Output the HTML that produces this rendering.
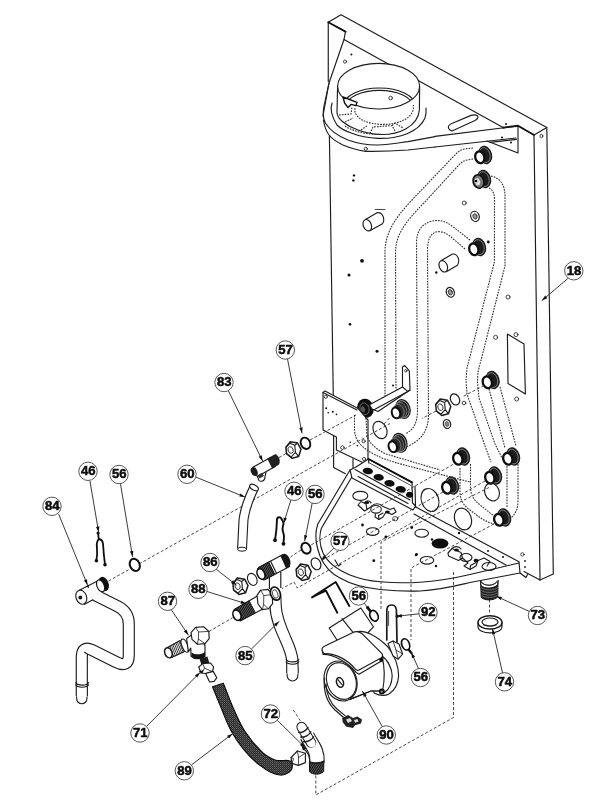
<!DOCTYPE html>
<html><head><meta charset="utf-8"><title>Parts diagram</title>
<style>
html,body{margin:0;padding:0;background:#fff;}
body{width:600px;height:800px;overflow:hidden;font-family:"Liberation Sans",sans-serif;}
svg{display:block}
svg *{vector-effect:non-scaling-stroke}
.l{fill:none;stroke:#1c1c1c;stroke-width:1.15;stroke-linecap:round;stroke-linejoin:round}
.t{fill:none;stroke:#1c1c1c;stroke-width:0.8;stroke-linecap:round;stroke-linejoin:round}
.b{fill:none;stroke:#111;stroke-width:1.9;stroke-linecap:round;stroke-linejoin:round}
.w{fill:#fff;stroke:#1c1c1c;stroke-width:1.15;stroke-linejoin:round}
.k{fill:#111;stroke:none}
.d{fill:none;stroke:#303030;stroke-width:1.1;stroke-dasharray:1.7 1.1}
.dd{fill:none;stroke:#353535;stroke-width:0.9;stroke-dasharray:3 2}
.lab circle{fill:#fff;stroke:#444;stroke-width:0.9}
.lab text{font-family:"Liberation Sans",sans-serif;font-weight:bold;font-size:13px;text-anchor:middle;fill:#0a0a0a;stroke:#0a0a0a;stroke-width:0.5}
.lab path.l{stroke:#303030;stroke-width:0.95}
</style></head>
<body>
<svg width="600" height="800" viewBox="0 0 600 800">
<rect width="600" height="800" fill="#fff"/>
<defs><filter id="soft" x="0" y="0" width="600" height="800" filterUnits="userSpaceOnUse"><feGaussianBlur stdDeviation="0.35"/></filter></defs>
<g filter="url(#soft)">
<!--PANEL-->
<g id="panel">
<path class="l" d="M328.25 81.5 L328.25 22.25 L341 14.75 L546.8 127.5 L553.3 574 L540 580"/>
<path class="b" d="M328.25 22.25 L345.5 31.7"/>
<path class="l" d="M345.5 31.7 L344 39.5 L504 128"/>
<path class="b" d="M503 127.6 L518 125.8 L534 135"/>
<path class="l" d="M534 135 L546.8 127.5 M534 135 L540 580"/>
<path class="l" d="M344 39.5 L329 83 L323 116"/>
</g>
<!--SHELF-->
<g transform="translate(315,60) scale(0.2)">
<path class="l" d="M70 115 L45 230 C38 265 38 290 52 315 C70 345 110 378 165 400 C215 418 260 426 315 425 C370 423 420 414 465 408 L600 383"/>
<path class="l" d="M42 300 C48 335 55 355 70 375 C90 400 115 413 140 425 C180 442 215 452 255 457 C330 458 400 455 465 450 L600 435"/>
<circle class="t" cx="254" cy="444" r="8"/>
<circle class="t" cx="150" cy="8" r="8"/>
<circle class="k" cx="182" cy="-27" r="5"/>
<circle class="k" cx="195" cy="577" r="6"/><circle class="k" cx="192" cy="602" r="6"/>
</g>
<g transform="translate(430,90) scale(0.2)">
<path class="l" d="M25 232 L440 180 L440 315 L285 255"/>
<path class="l" d="M25 285 L430 240"/>
<path class="l" d="M300 262 L432 247"/>
<path class="l" d="M110 205 C85 195 85 175 115 165 L205 127 C235 118 255 135 225 152 Z"/>
<circle class="k" cx="380" cy="170" r="5"/><circle class="k" cx="360" cy="237" r="5"/><circle class="k" cx="405" cy="262" r="5"/>
<ellipse class="t" cx="557" cy="230" rx="7" ry="9"/>
</g>
<!--FLUE-->
<g transform="translate(315,60) scale(0.2)">
<defs><clipPath id="cpf"><ellipse cx="318" cy="131" rx="203" ry="112"/></clipPath></defs>
<path class="l" d="M85 215 C75 245 78 275 110 325 C135 350 160 358 180 365 C225 382 270 390 315 392 C420 395 520 360 550 290 C556 270 557 255 555 240"/>
<path class="w" d="M113 131 L110 265 C112 285 125 298 140 310 C165 330 190 342 215 350 C250 362 280 370 315 372 C420 378 515 330 522 250 L523 131 Z"/>
<ellipse cx="318" cy="131" rx="205" ry="114" fill="#fff"/>
<g clip-path="url(#cpf)">
<ellipse class="l" cx="322" cy="230" rx="180" ry="90"/>
<ellipse class="l" cx="322" cy="232" rx="166" ry="80"/>
<circle class="t" cx="378" cy="190" r="9"/>
</g>
<ellipse class="l" cx="318" cy="131" rx="205" ry="114"/>
<path class="b" d="M140 185 L210 212 L205 228 L180 222 L165 238 L148 215 Z" style="fill:#fff;stroke-width:1.4"/>
<path class="d" d="M200 240 C190 290 260 322 340 322 C420 322 500 290 492 225"/>
<path class="d" d="M120 275 L180 270 L185 235 M150 310 L190 290 M230 350 L262 328 M275 368 L290 335 L385 328 L400 355 M385 328 L400 315 L440 340"/>
<path class="d" d="M150 330 C200 365 280 372 330 372"/>
</g>
<g id="paneldetail">
<path class="w" d="M365.5 219.6 L377.5 212.6 C382.5 212 385.5 219 382.5 223.8 L370.3 230.6 Z"/>
<ellipse class="w" cx="367.3" cy="225.2" rx="4" ry="5.9" transform="rotate(-22 367.3 225.2)"/>
<path class="t" d="M375 209.5 L385 209.5"/>
<path class="w" d="M441.3 260.6 L452.5 254 C457.5 253.4 460.5 260.4 457.5 265.2 L446.3 271.8 Z"/>
<ellipse class="w" cx="443.3" cy="266.3" rx="4" ry="5.9" transform="rotate(-22 443.3 266.3)"/>
<circle class="k" cx="362" cy="260.8" r="1.9"/><circle class="k" cx="349" cy="275" r="1.5"/><circle class="k" cx="350" cy="324.3" r="1.3"/><circle class="k" cx="377" cy="351.3" r="1.5"/><circle class="k" cx="393" cy="385.5" r="1"/><circle class="k" cx="436.3" cy="272.5" r="1.2"/><circle class="k" cx="488.3" cy="242" r="1.4"/>
<ellipse class="l" cx="450.3" cy="292.3" rx="4" ry="5" transform="rotate(-20 450.3 292.3)"/><ellipse class="t" cx="450.3" cy="292.3" rx="2" ry="2.8" transform="rotate(-20 450.3 292.3)" style="fill:#999"/>
<ellipse class="l" cx="475" cy="216.4" rx="4.2" ry="5.2" transform="rotate(-20 475 216.4)"/><ellipse class="t" cx="475" cy="216.4" rx="2" ry="2.8" transform="rotate(-20 475 216.4)" style="fill:#999"/>
<circle class="t" cx="464.2" cy="203" r="2"/><circle class="t" cx="508" cy="297" r="2"/><circle class="t" cx="495.6" cy="337.3" r="2"/><circle class="t" cx="516" cy="334.6" r="2"/><circle class="t" cx="516.6" cy="399" r="2"/>
<path class="l" d="M507.4 334 L524 344 L525.4 394 L508 383.6 Z"/>
</g>
<!--PIPES-->
<g id="pipes">
<!-- pipe1: fitting1 -> down left -->
<path class="d" d="M473 148 L464 149 C458 151 456 154 452 158 L412 200 C395 218 386 232 385 250 L385 396"/>
<path class="d" d="M473 159 L467 160 C462 161 460 164 456 168 L424 203 C403 224 396 236 395.5 252 L396 388 L400 398"/>
<!-- pipe2: fitting3 -> left/down -->
<path class="d" d="M470 240 L452 226 C444 220 438 220 432 221 C422 224 417 230 416.5 242 L417.5 412 C417 424 413 430 406 433.5"/>
<path class="d" d="M465 249 L450 236 C444 232 440 231 436 232 C430 234 428 240 427.5 248 L428.5 416 C428 432 420 441 407 446.5"/>
<!-- pipe3: fitting2 -> right/down -->
<path class="d" d="M491 176 C500 178 504 184 505 194 L505 266 L478 372 L477.5 382 L479 398 L495 444 L502 458"/>
<path class="d" d="M489 188 C493 190 494.5 194 494.5 200 L494.4 262 L467 368 L466 380 L467 394 L485 446 L491 462"/>
<!-- pipe4: fitting4 -> fitting7 -->
<path class="d" d="M489 389 L505 448 M500 387 L516 446"/>
<!-- pipe5 -->
<path class="d" d="M507 466 L507 508 M518 464 L518 500 C518 510 515 514 511 518"/>
<!-- pipe6 S -->
<path class="d" d="M470.5 464 L470.5 488 C471 496 474 500 480 505 L494 516"/>
<path class="d" d="M460 468 L460 492 C460 500 464 506 470 510 C480 518 486 522 494 524"/>
</g>
<!--FITTINGS-->
<defs>
<g id="fit">
<ellipse cx="2.2" cy="-0.6" rx="6.8" ry="9.4" transform="rotate(-17 2.2 -0.6)" fill="#1a1a1a"/>
<ellipse cx="1.8" cy="-0.4" rx="5.2" ry="7.6" transform="rotate(-17 1.8 -0.4)" fill="none" stroke="#aaa" stroke-width="0.7"/>
<ellipse cx="-3.2" cy="1.8" rx="4.5" ry="6" transform="rotate(-17 -3.2 1.8)" fill="#fff" stroke="#0d0d0d" stroke-width="2.3"/>
</g>
<g id="fitg">
<ellipse cx="2.2" cy="-0.6" rx="6.8" ry="9.4" transform="rotate(-17 2.2 -0.6)" fill="#1a1a1a"/>
<ellipse cx="1.8" cy="-0.4" rx="5.2" ry="7.6" transform="rotate(-17 1.8 -0.4)" fill="none" stroke="#aaa" stroke-width="0.7"/>
<ellipse cx="-3.5" cy="2" rx="5.4" ry="6.8" transform="rotate(-17 -3.5 2)" fill="#777" stroke="#0d0d0d" stroke-width="1.6"/>
<ellipse cx="-4.5" cy="2.2" rx="2.6" ry="3.6" transform="rotate(-17 -4.5 2.2)" fill="#ddd"/>
<circle cx="-6" cy="1.5" r="1.3" fill="#000"/>
</g>
<g id="fitd">
<ellipse cx="0" cy="0" rx="8.3" ry="9.6" transform="rotate(-17)" fill="#111"/>
<ellipse cx="-1" cy="0.5" rx="4.5" ry="6" transform="rotate(-17 -1 .5)" fill="none" stroke="#777" stroke-width="0.8"/>
<ellipse cx="-2.5" cy="1" rx="2" ry="3" transform="rotate(-17 -2.5 1)" fill="#555"/>
</g>
<g id="fitt">
<ellipse cx="3" cy="-1.2" rx="7.6" ry="10.2" transform="rotate(-17 3 -1.2)" fill="#1e1e1e"/>
<ellipse cx="2.8" cy="-1" rx="6.2" ry="8.7" transform="rotate(-17 2.8 -1)" fill="none" stroke="#b5b5b5" stroke-width="0.8"/>
<ellipse cx="0.8" cy="0" rx="5.8" ry="8" transform="rotate(-17 .8 0)" fill="#2a2a2a" stroke="#909090" stroke-width="0.7"/>
<ellipse cx="-1.4" cy="1.2" rx="5.4" ry="7.3" transform="rotate(-17 -1.4 1.2)" fill="#2a2a2a" stroke="#999" stroke-width="0.7"/>
<ellipse cx="-4" cy="2.7" rx="4.1" ry="5.5" transform="rotate(-17 -4 2.7)" fill="#fff" stroke="#0d0d0d" stroke-width="2"/>
</g>
</defs>
<g id="fittings">
<use href="#fit" x="483" y="155.5"/>
<use href="#fitg" x="482" y="179.5"/>
<use href="#fit" x="477" y="247.5"/>
<use href="#fit" x="490.5" y="380.5"/>
<use href="#fit" x="461" y="457"/>
<use href="#fit" x="511" y="457"/>
<use href="#fit" x="493" y="476"/>
<use href="#fit" x="450" y="486"/>
<use href="#fit" x="502" y="518"/>
<use href="#fitd" x="365.5" y="408.3"/>
<use href="#fitt" x="400" y="410.2"/>
<use href="#fitt" x="396.8" y="444"/>
</g>
<!--BRACKET-->
<g id="bracket">
<path class="l" d="M329.4 136 L333.3 397"/>
<g transform="translate(320,370) scale(0.2)">
<path class="w" d="M15 112 L25 105 L190 192 L240 250 L240 475 L82 400 L82 335 L15 300 Z"/>
<path class="l" d="M15 112 L185 200"/>
<path class="l" d="M68 328 L68 487 L127 519 M165 444 L165 512"/>
<circle class="t" cx="29" cy="134" r="8"/><circle class="t" cx="112" cy="388" r="9"/><circle class="t" cx="218" cy="356" r="8"/><circle class="t" cx="220" cy="445" r="8"/>
<circle class="k" cx="31" cy="191" r="5"/><circle class="k" cx="41" cy="214" r="4"/><circle class="k" cx="64" cy="209" r="5"/><circle class="k" cx="82" cy="222" r="4"/><circle class="k" cx="151" cy="361" r="4"/><circle class="k" cx="187" cy="378" r="4"/>
</g>
<!-- arm -->
<path class="w" d="M402.5 367 L404.8 365.6 L409.3 370.8 L410 390 L378 411.5 L372 409 L369.5 404.8 L402.5 387 Z"/>
<path class="l" d="M402.5 387 L407.8 391.4 L374.5 409.6 M407.8 391.4 L410 390"/>
<circle class="t" cx="405.8" cy="370.8" r="1.2"/>
<!-- hidden pipe from fitting5 -->
<path class="d" d="M354.5 415 L354.5 430 C355 438 358 442 362 446 C370 453 376 455 382 458 C395 463 405 465 412 467 L470 482"/>
<path class="d" d="M366 418 L367 436 C370 445 378 450 386 454 L440 470"/>
<ellipse class="l" cx="380" cy="430" rx="6.6" ry="9" transform="rotate(-25 380 430)"/>
</g>
<!--TRAY-->
<g id="tray">
<!-- panel large holes -->
<ellipse class="l" cx="430" cy="500" rx="8.6" ry="11.8" transform="rotate(-20 430 500)"/>
<ellipse class="l" cx="463" cy="519" rx="8.2" ry="11.2" transform="rotate(-20 463 519)"/>
<ellipse class="l" cx="492" cy="492" rx="7.2" ry="9.2" transform="rotate(-20 492 492)"/>
<!-- outline -->
<path class="l" d="M350 470 L317.8 524 C315 532 315.5 544 320 556 C325 568 332 574 340 578 C352 585 366 588 380 589.5 C395 591 408 591.5 420 591 C440 590 455 586 470 582.5 L520 573"/>
<path class="l" d="M353.6 474 L321.5 528 C319 535 319.5 545 323 553 C328 563 338 570 350 575 C360 579 370 581 380 581.8 C395 583 408 583 420 582.2 C440 581 455 578 470 574.5 L519 563"/>
<path class="l" d="M410 504 L519 561.8 L520 573 L526 577.5 L527.5 574.5 M540 580 L524 571.5"/>
<path class="l" d="M414 514 L506 565"/>
<path class="l" d="M335 560 L338.5 566 L341 564"/>
<!-- channel -->
<path class="w" d="M350 470 L356 467 L368.5 459 L412 482.3 L412.5 503 L415.5 506 L413 510 L352 478 Z"/>
<path class="b" d="M368.5 459 L412 482.3"/>
<path class="t" d="M369.5 463 L411 485.5"/>
<path class="l" d="M355 469.5 L410 500 M358 476.5 L408 503.5 M415 486 L415.5 506 M368.5 459 L368.8 463"/>
<ellipse class="k" cx="367.8" cy="471" rx="5.2" ry="3.3" transform="rotate(8 367.8 471)"/>
<ellipse class="k" cx="378.7" cy="477.3" rx="5.2" ry="3.3" transform="rotate(8 378.7 477.3)"/>
<ellipse class="k" cx="389.5" cy="483.3" rx="5.2" ry="3.3" transform="rotate(8 389.5 483.3)"/>
<ellipse class="k" cx="400.7" cy="489.3" rx="5.2" ry="3.3" transform="rotate(8 400.7 489.3)"/>
<ellipse class="k" cx="409.6" cy="494.8" rx="3.6" ry="3" transform="rotate(8 409.6 494.8)"/>
<!-- tray holes -->
<ellipse class="l" cx="360.3" cy="495.8" rx="7.5" ry="4.5"/>
<ellipse class="l" cx="376" cy="509.3" rx="5.3" ry="3.8"/>
<ellipse class="l" cx="372.7" cy="531.5" rx="6.3" ry="3.8"/>
<ellipse class="l" cx="421.7" cy="533.2" rx="6.8" ry="4"/>
<ellipse class="l" cx="427" cy="560.3" rx="6.7" ry="3.8"/>
<ellipse class="t" cx="395.2" cy="518.7" rx="2.7" ry="2.1"/>
<ellipse class="k" cx="440" cy="543.6" rx="8.4" ry="5"/>
<circle class="k" cx="362.5" cy="525" r="1.4"/><circle class="k" cx="385.8" cy="537" r="1.4"/><circle class="k" cx="411.7" cy="527.5" r="1.4"/><circle class="k" cx="416.5" cy="554.5" r="1.4"/><circle class="k" cx="373.8" cy="560.7" r="1.4"/><circle class="k" cx="432" cy="539.5" r="1.2"/><circle class="k" cx="416" cy="555" r="1.2"/><circle class="k" cx="436" cy="566" r="1.2"/><circle class="k" cx="459" cy="533" r="1.2"/><circle class="k" cx="488" cy="551" r="1"/><circle class="k" cx="503" cy="557" r="1"/>
<!-- clips left -->
<path class="l" d="M358 505 L361 501.5 L366 504 L367 509.5 L364.5 511 Z M367 509.5 L372 506 M364.5 503 C366 500 370 500 371 503"/>
<ellipse class="k" cx="367" cy="502.5" rx="2.2" ry="1.5"/>
<path class="l" d="M372 506 C374 503 380 503 382 506 L390 509.5 L394 508 L396 512 L392 514.5 L386 512 L383 517 L379 519.5 L375 517 L375.5 514"/>
<path class="l" d="M379 519.5 L378.5 515.5 L383 513"/>
<ellipse class="k" cx="387.5" cy="512" rx="2.4" ry="1.6"/>
<!-- clips right -->
<path class="l" d="M448 553 L452 548.5 L461 552.5 L462.5 558 L458.5 560.5 L448.5 556 Z M452 548.5 C454 546 459 546 461 549"/>
<ellipse class="k" cx="456.5" cy="550" rx="2.4" ry="1.6"/>
<ellipse class="l" cx="466" cy="557.5" rx="6" ry="4"/>
<path class="l" d="M462.5 558 L468 563 L464 566 L470 569.5 L476 566 L478 560.5 L484 558 L490 561.5 L487 566"/>
<path class="l" d="M470 569.5 L470.5 565.5 L476 562.5"/>
<ellipse class="k" cx="476" cy="560.5" rx="2.4" ry="1.7"/>
<ellipse class="l" cx="489" cy="566.5" rx="7" ry="4"/>
<!-- right end bits -->
<circle class="t" cx="522.4" cy="554.4" r="1.7"/><circle class="k" cx="525" cy="561" r="0.9"/><circle class="k" cx="525" cy="567" r="0.9"/>
</g>
<use href="#nut" x="443.2" y="407" transform="rotate(0)"/>
<ellipse cx="455" cy="399.4" rx="4.4" ry="5.8" transform="rotate(-25 455 399.4)" fill="#fff" stroke="#1c1c1c" stroke-width="1.2"/>
<ellipse class="l" cx="447" cy="424" rx="3.6" ry="4.6" transform="rotate(-20 447 424)"/><ellipse cx="447" cy="424" rx="1.8" ry="2.5" transform="rotate(-20 447 424)" fill="#888" stroke="#222" stroke-width=".6"/>
<circle class="t" cx="464" cy="403" r="1.8"/>
<g id="asm">
<path class="dd" d="M108.5 581 L390 423.5"/>
<path class="dd" d="M279 457.5 L286 453.5 M310 440 L356 415"/>
<path class="dd" d="M453 464.5 L311 545 M301 550 L290.5 557"/>
<path class="dd" d="M443 492 L321.5 560.5"/>
<path class="dd" d="M485 481 L297.3 588 L294 582 L282 588.6"/>
<path class="dd" d="M489 487.5 L381 542 L381 611"/>
<path class="dd" d="M494 524 L411 568 L411 640"/>
<path class="dd" d="M484 385.5 L462 397 M436 411 L422 418.5"/>
<path class="dd" d="M389.5 418 L384 424"/>
<path class="dd" d="M489.5 599.5 L489.5 614"/>
<path class="dd" d="M315.8 775.5 L315.8 795 L453.5 717.5 L453.5 572"/>
<path class="dd" d="M293.3 710 L300.5 721"/>
<path class="dd" d="M209 631.5 L232.5 617.8"/>
</g>
<!--PARTS-->
<defs>
<g id="nut">
<path d="M-7.5 -2.5 L-3 -8 L4.2 -6.8 L7.6 -0.5 L5.2 6.8 L-1.5 8.5 L-6.8 4 Z" fill="#fff" stroke="#1c1c1c" stroke-width="1.5" stroke-linejoin="round"/>
<path d="M-7.5 -2.5 L-3.6 -6.6 L1.4 -4.6 L2 2.6 L-2.2 7.2 L-6.8 4 M1.4 -4.6 L4.2 -6.8 M2 2.6 L5.2 6.8 M-3.6 -6.6 L-3 -8" fill="none" stroke="#1c1c1c" stroke-width="1.1" stroke-linejoin="round"/>
<ellipse cx="-2.8" cy="0.2" rx="2.5" ry="3.4" transform="rotate(-20 -2.8 .2)" fill="#fff" stroke="#1c1c1c" stroke-width="0.9"/>
</g>
<pattern id="thr" width="1.6" height="6" patternUnits="userSpaceOnUse" patternTransform="rotate(-28)"><rect width="1.6" height="6" fill="#666"/><rect width="0.9" height="6" fill="#111"/></pattern>
<pattern id="hose" width="2" height="2" patternUnits="userSpaceOnUse"><rect width="2" height="2" fill="#2b2b2b"/><rect width="0.8" height="0.8" fill="#8a8a8a"/><rect x="1" y="1" width="0.7" height="0.7" fill="#6a6a6a"/></pattern>
</defs>
<g id="p83">
<path class="w" d="M257.2 475.6 L259 480.6 C261 482 264 481 264.6 479 L266 472"/>
<path class="w" d="M252.8 467.2 L270.5 457.4 L275.2 466.6 L257.4 476.6 Z"/>
<ellipse cx="254.2" cy="471.6" rx="3.2" ry="4.6" transform="rotate(-25 254.2 471.6)" fill="#1a1a1a"/>
<path d="M267.8 458.8 L275.4 454.6 C278.4 455.6 280.4 460.6 278.6 464.4 L272.4 468 Z" fill="#222" stroke="#111" stroke-width="0.8"/>
<path d="M257.5 475.2 L262 472.8 L264 476 L259.5 478.4 Z" fill="#333"/>
</g>
<use href="#nut" x="293.4" y="449.8"/>
<ellipse cx="305.5" cy="443.3" rx="4.6" ry="5.9" transform="rotate(-25 305.5 443.3)" fill="#fff" stroke="#111" stroke-width="1.9"/>
<g id="p60">
<path d="M253.9 488 C249 498 245 508 243.5 520 L242 549" fill="none" stroke="#1c1c1c" stroke-width="10" />
<path d="M254.2 487.4 C249 498 245 508 243.5 520 L242 549.6" fill="none" stroke="#fff" stroke-width="7.8"/>
<ellipse class="w" cx="254" cy="487.5" rx="4.7" ry="2.6" transform="rotate(28 254 487.5)"/>
<ellipse class="w" cx="242" cy="549.2" rx="4.4" ry="2" style="stroke-width:1"/>
</g>
<g id="p46b">
<path d="M275 540 C275.6 536 276.2 532 276.5 528 L277 519.5 C277.4 516.6 280.4 516.6 281.6 519 C282.6 520.6 283.2 522 283.5 523.5 C283 526 282.4 527.6 282.6 530 C283 532.6 284 534 284 536.6 L283.5 543.4" fill="none" stroke="#111" stroke-width="1.9" stroke-linecap="round" stroke-linejoin="round"/>
<circle class="k" cx="275" cy="540.2" r="1.9"/><circle class="k" cx="283.5" cy="543.8" r="1.9"/>
</g>
<ellipse cx="306" cy="548.2" rx="4.4" ry="5.6" transform="rotate(-25 306 548.2)" fill="#fff" stroke="#111" stroke-width="2"/>
<g id="p85">
<path d="M275.2 596 L275.6 606 C276 618 281 629 285.5 639 C289 647 291.8 653 292.3 660 L292.5 673" fill="none" stroke="#1c1c1c" stroke-width="12.4"/>
<path d="M292.5 668 L292.5 675.6" fill="none" stroke="#1c1c1c" stroke-width="11.8" stroke-linecap="round"/>
<path d="M292.5 668 L292.5 675.6" fill="none" stroke="#fff" stroke-width="9.6" stroke-linecap="round"/>
<path d="M275.2 595 L275.6 606 C276 618 281 629 285.5 639 C289 647 291.8 653 292.3 660 L292.5 674" fill="none" stroke="#fff" stroke-width="10.2"/>
<path class="l" d="M286.2 659.5 C288 662.6 297 662.6 298.8 659.5 M286.2 661.8 C288 665 297 665 298.8 661.8"/>
</g>
<g id="pfit2">
<path class="w" d="M269.4 577 L269.4 589 M280.8 572 L280.8 588" />
<path class="w" d="M258.6 567.6 L283 554.4 L289.6 566.4 L265 579.6 Z"/>
<path d="M257.8 568 L268.6 562.2 L274.6 574.4 L264.2 580 C260 580 256 573 257.8 568 Z" fill="url(#thr)" stroke="#111" stroke-width="0.9"/>
<ellipse cx="261" cy="574" rx="3.6" ry="5.6" transform="rotate(-25 261 574)" fill="#fff" stroke="#111" stroke-width="1.6"/>
<path d="M280.4 555.8 L284.4 553.8 C288.6 554.4 292 561.4 289.8 566.2 L286 568.2 Z" fill="#161616"/>
<path class="l" d="M268.6 562.2 L274.6 574.4 M270.6 561.2 L276.6 573.4"/>
</g>
<ellipse cx="252.3" cy="579.4" rx="4.5" ry="6.3" transform="rotate(-25 252.3 579.4)" fill="#fff" stroke="#1c1c1c" stroke-width="1.1"/>
<use href="#nut" x="240.4" y="586"/>
<g id="p88">
<path class="w" d="M234.4 609.4 L259 595 L265.8 607.4 L240.4 620.8 Z"/>
<path d="M233.8 609.8 L249.2 600.8 L255.4 612.8 L240.6 620.8 C236.6 621 232 614.6 233.8 609.8 Z" fill="url(#thr)" stroke="#111" stroke-width="0.9"/>
<ellipse cx="237" cy="615.2" rx="3.8" ry="5.4" transform="rotate(-25 237 615.2)" fill="#fff" stroke="#111" stroke-width="1.6"/>
<path class="w" d="M257 595.4 L260.6 590.2 L268 589.4 L272.4 594.6 L272.6 603.6 L268.4 608.8 L262.4 609.6 L258 604 Z"/>
<path class="t" d="M260.6 590.2 L263.8 595.6 L263.6 604.4 L262.4 609.6 M263.8 595.6 L272.4 594.6 M263.6 604.4 L268.4 608.8"/>
<ellipse cx="275.4" cy="593.6" rx="4.8" ry="6.8" transform="rotate(-20 275.4 593.6)" fill="#fff" stroke="#111" stroke-width="1.7"/>
<ellipse cx="275.2" cy="594" rx="2.6" ry="4.4" transform="rotate(-20 275.2 594)" fill="#fff" stroke="#111" stroke-width="0.8"/>
</g>
<use href="#nut" x="303.6" y="572"/>
<ellipse cx="316" cy="563.8" rx="4.6" ry="6.2" transform="rotate(-25 316 563.8)" fill="#fff" stroke="#1c1c1c" stroke-width="1.2"/>
<g id="p89">
<path d="M212.5 686.7 C213.8 689.8 216.7 697.2 220.0 705.0 C223.3 712.8 227.5 724.7 232.5 733.3 C237.5 741.9 244.3 750.6 250.0 756.7 C255.7 762.8 261.7 767.0 266.7 770.0 C271.7 773.0 276.3 774.6 280.0 775.0 C283.7 775.4 286.9 773.6 289.0 772.2 C291.1 770.8 292.2 768.4 292.3 766.5 C292.4 764.6 292.4 761.9 289.5 760.8 C286.6 759.7 279.6 761.5 275.0 760.0 C270.4 758.5 266.7 756.4 261.7 751.7 C256.7 747.0 249.7 738.9 245.0 731.7 C240.3 724.5 236.9 716.4 233.3 708.3 C229.7 700.2 225.0 687.5 223.3 683.3 Z" fill="url(#hose)" stroke="#111" stroke-width="1.2" stroke-linejoin="round"/>
</g>
<g id="p87">
<path class="w" d="M166.6 648 L180 640.6 L184.4 651.6 L171 657.8 Z"/>
<path class="t" d="M168.4 647 L172.2 657.2 M169.9 646.2 L173.8 656.5 M171.4 645.4 L175.4 655.8 M172.9 644.6 L177 655.1 M174.4 643.8 L178.6 654.4 M175.9 643 L180.2 653.7 M177.4 642.2 L181.8 653 M178.9 641.4 L183.2 652.2" style="stroke-width:0.9;stroke:#222"/>
<ellipse class="w" cx="168.4" cy="652.8" rx="3.6" ry="5.2" transform="rotate(-22 168.4 652.8)" style="stroke-width:1.5"/>
<ellipse class="w" cx="184.8" cy="645.6" rx="2.8" ry="7" transform="rotate(-22 184.8 645.6)"/>
<path class="w" d="M186.6 638.6 L194 633 L203 640 L205 646 L205 656.6 C201 659.6 194 659.4 191 656 L190.8 648 L188.4 651.6 Z"/>
<path d="M191.6 652.4 C195 655 201 655 205 652 L205 656.8 C201 659.8 194.4 659.6 191.4 656.4 Z" fill="#141414"/>
<path class="w" d="M191 632.6 L195.6 627.4 L203.6 626.8 L208.8 631.4 L209.2 638.6 L205 643.6 L197.4 644.2 L192 639.4 Z"/>
<path class="t" d="M195.6 627.4 L198.6 632 L198.4 639 L197.4 644.2 M198.6 632 L208.8 631.4 M198.4 639 L205 643.6"/>
</g>
<g id="p71">
<path d="M199.6 659 L207.4 656.6 L209.8 664.4 L202 666.8 Z" fill="#1a1a1a"/>
<path class="w" d="M198.8 667 L202.6 663.6 L210.6 663 L213.6 667 L212.4 671.6 L207.4 673.8 L201 673 Z"/>
<path class="t" d="M202.6 663.6 L204.6 668.2 L212.4 671.6 M204.6 668.2 L201 673"/>
<path class="w" d="M205.6 673.4 L213.2 671.4 L216.8 677.8 L214 681.4 L209.6 682 Z"/>
<path class="k" d="M198.6 671.4 L203.8 670 L202.4 673.6 Z"/>
</g>
<g id="p72">
<path class="w" d="M291 757.6 L297.4 751 L305.4 753.2 L305.4 762.6 L298.4 765.4 L292 763.4 Z"/>
<path class="t" d="M297.4 751 L298.6 757.4 L298.4 765.4 M298.6 757.4 L305.4 753.2 M291 757.6 L293.6 758.4 L292 763.4"/>
<path d="M307 736 C311 744 318 750 317 762" fill="none" stroke="#1c1c1c" stroke-width="15.4"/>
<path d="M307 735.6 C311 744 318 750 317 762.4" fill="none" stroke="#fff" stroke-width="13.2"/>
<path d="M301.6 727 L311 742.6" fill="none" stroke="#1c1c1c" stroke-width="10.4" stroke-linecap="round"/>
<path d="M301.6 727 L311.4 743.2" fill="none" stroke="#fff" stroke-width="8.4" stroke-linecap="round"/>
<path class="l" d="M298.6 732.2 C301.6 733.4 306.6 730.4 308 727.4 M300.8 737 C304.6 738 309.6 735 310.8 731.8 M303.2 741.6 C307.2 742.6 312.2 739.6 313.6 736.8" style="stroke-width:1.4"/>
<path class="l" d="M303.6 748.8 C307 751.4 309.6 755.6 309.8 761.6 M309.6 761.8 C313 763.4 320 763.2 324 761"/>
<path d="M309.4 762 C313 764 320 764 323.8 761.6 L323.6 771.6 C320 775 312.6 775 309.6 771.8 Z" fill="url(#thr)" stroke="#111" stroke-width="1"/>
<path class="k" d="M301 744.6 L306.4 748.6 L303 750.4 Z"/>
</g>
<g id="p90" transform="translate(305,590) scale(0.2)">
<path class="w" d="M121 190 L279 90 L342 184 L300 230 L160 250 Z"/>
<path class="l" d="M185 143 L240 212"/>
<!-- volute/flange -->
<path class="w" d="M262 208 C300 200 360 230 415 285 C450 325 468 385 468 430 C466 470 450 500 420 520 C400 530 370 528 345 515 L330 400 Z"/>
<path class="w" d="M415 268 L440 255 L470 270 L488 320 L466 346 L440 330 Z"/>
<path class="l" d="M440 255 L455 300 L466 346 M455 300 L488 320" style="stroke-width:.8"/>
<path class="l" d="M385 330 C415 350 436 395 436 430 C434 470 420 497 398 512"/>
<!-- body -->
<path class="w" d="M205 350 L385 335 C398 380 398 450 388 505 L330 505 L220 548 Z"/>
<path class="l" d="M388 505 L330 505 L228 546"/>
<!-- front face -->
<ellipse class="w" cx="178" cy="455" rx="80" ry="102" transform="rotate(-20 178 455)"/>
<ellipse class="l" cx="182" cy="455" rx="72" ry="94" transform="rotate(-20 182 455)"/>
<ellipse class="w" cx="175" cy="462" rx="17" ry="25" transform="rotate(-20 175 462)" style="stroke-width:1.5"/>
<path class="l" d="M164 448 L187 476"/>
<!-- cap -->
<path class="w" d="M86 300 L90 322 C140 320 215 362 256 412 L270 421 L386 352 L389 330 Z"/>
<path class="w" d="M85 295 C85 285 100 280 110 275 L240 212 C255 205 270 208 285 218 L385 318 C390 328 388 335 380 340 L270 400 C262 404 255 400 248 392 C215 350 150 315 95 318 C88 312 85 305 85 295 Z"/>
<path class="k" d="M370 345 L392 335 L392 355 L376 362 Z"/>
<circle class="k" cx="384" cy="508" r="15"/><circle cx="384" cy="508" r="6" fill="#888"/>
<!-- cable -->
<path class="l" d="M97 440 C92 500 108 560 150 600 L196 640 M105 470 C108 520 125 565 160 595 L200 628"/>
<path d="M186 640 L215 625 L240 640 L262 632 L285 648 L280 668 L250 676 L240 690 L205 682 L188 660 Z" fill="#222"/>
<path d="M205 648 L225 640 L235 655 L215 665 Z M245 650 L262 645 L268 658 L250 664 Z" fill="#ddd"/>
</g>
<g id="p92">
<path d="M386.8 640 L386.8 610.5 C386.8 603.5 395.8 603 396.4 610 L397 642" fill="none" stroke="#1a1a1a" stroke-width="1.7" stroke-linecap="round"/>
<path d="M388.6 626 L388.6 611" fill="none" stroke="#1a1a1a" stroke-width="0.8"/>
<circle class="k" cx="397.2" cy="616.2" r="1.6"/>
</g>
<ellipse cx="374" cy="615.8" rx="3.9" ry="5.6" transform="rotate(-25 374 615.8)" fill="#fff" stroke="#111" stroke-width="1.7"/>
<ellipse cx="405.6" cy="644.4" rx="3.8" ry="5.8" transform="rotate(-22 405.6 644.4)" fill="#fff" stroke="#111" stroke-width="1.7"/>
<path d="M409 650 L411.4 653" stroke="#111" stroke-width="2.4" fill="none" stroke-linecap="round"/>
<path d="M367.5 607.5 L370.6 611.4" stroke="#111" stroke-width="2.6" fill="none" stroke-linecap="round"/>
<g id="key">
<path d="M312 597.3 L335.7 582 L349.3 606 M312 597.3 L317.3 594.7 L326 590.7 L337.3 612.7" fill="none" stroke="#111" stroke-width="1.9" stroke-linejoin="round" stroke-linecap="round"/>
</g>
<g id="p73" transform="translate(0,1.2)">
<path d="M480.6 580 C484 585.6 494 585.6 498 579.4 L497.8 595.6 C494 599.6 484.6 599.8 481.2 596 Z" fill="#222" stroke="#111" stroke-width="1"/>
<path d="M481.4 586.6 C485 589.4 494 589.4 497.8 586.2 M481.4 589.2 C485 592 494 592 497.8 588.8 M481.4 591.8 C485 594.6 494 594.6 497.8 591.4 M481.4 594.2 C485 597 494 597 497.8 593.8" fill="none" stroke="#999" stroke-width="0.6"/>
<path d="M480.6 580 C484 585.6 494 585.6 498 579.4 L497.6 583.4 C494 587.8 484.6 588 481 584.2 Z" fill="#fff" stroke="#111" stroke-width="1"/>
</g>
<g id="p74">
<path d="M478 622.4 L478 626.4 C478 635 502 635 502 626.4 L502 622.4" fill="#fff" stroke="#1a1a1a" stroke-width="1.2"/>
<ellipse cx="490" cy="622.4" rx="12" ry="6.6" fill="#fff" stroke="#1a1a1a" stroke-width="1.4"/>
<ellipse cx="490" cy="622" rx="8" ry="4" fill="#fff" stroke="#1a1a1a" stroke-width="1.2"/>
<path d="M483 624.6 C486 626.6 494 626.6 497 624.6" fill="none" stroke="#1a1a1a" stroke-width="0.8"/>
</g>
<g id="p84">
<path d="M95 595 L118 606.5 Q128.8 612 128.8 624 L128.8 655 Q128.8 668.5 116 662 L92 650 Q81.8 645.5 81.8 657 L81.8 696" fill="none" stroke="#1c1c1c" stroke-width="12.2" stroke-linejoin="round"/>
<path d="M81.8 690 L81.8 698.6" fill="none" stroke="#1c1c1c" stroke-width="11.4" stroke-linecap="round"/>
<path d="M81.8 690 L81.8 698.6" fill="none" stroke="#fff" stroke-width="9.2" stroke-linecap="round"/>
<path d="M93 594 L118 606.5 Q128.8 612 128.8 624 L128.8 655 Q128.8 668.5 116 662 L92 650 Q81.8 645.5 81.8 657 L81.8 697" fill="none" stroke="#fff" stroke-width="9.9" stroke-linejoin="round"/>
<path class="l" d="M75.8 682.5 C77 686 87 686 88.6 682.5 M75.8 684.8 C77 688 87 688 88.6 684.8"/>
<path class="l" d="M87.2 653.9 L84.6 652.3"/>
<!-- head -->
<path class="w" d="M79.3 590.2 L99 580.3 L104 591 L92.5 598 L84.5 604.3 Z" style="stroke:none"/>
<path class="l" d="M79.3 590.2 L99 580.3 M84.5 604.3 L92.8 599.8"/>
<ellipse class="w" cx="81.3" cy="597.2" rx="5.3" ry="7.2" transform="rotate(-20 81.3 597.2)"/>
<circle class="k" cx="80.3" cy="597.5" r="1.9"/>
<ellipse cx="103.6" cy="584" rx="5" ry="7.4" transform="rotate(-22 103.6 584)" fill="#111"/>
<ellipse cx="100.6" cy="585.8" rx="3.6" ry="6.3" transform="rotate(-22 100.6 585.8)" fill="#fff" stroke="#111" stroke-width="1.2"/>
<path class="k" d="M86 586.2 L88.6 584.8 L89 588.2 Z"/>
</g>
<g id="p46a">
<path d="M98.1 533 L98.7 539 C97 541 96.6 544 96.9 547 C97.3 551 97.6 555 96.4 560.4 M98.7 539 C101.5 539.4 102.8 541 103 544 C103.4 548 103.6 552 104 556 L105 564.4" fill="none" stroke="#111" stroke-width="1.8" stroke-linecap="round" stroke-linejoin="round"/>
<circle class="k" cx="98.1" cy="533" r="1.6"/><circle class="k" cx="96.4" cy="560.8" r="1.8"/><circle class="k" cx="105" cy="564.8" r="1.8"/>
</g>
<ellipse cx="134.8" cy="564.9" rx="4.8" ry="6.3" transform="rotate(-25 134.8 564.9)" fill="#fff" stroke="#111" stroke-width="2"/>
<!--LABELS-->
<g class="lab">
<path class="l" d="M567.5 278.8 L542.0 300.5"/><path class="k" d="M542.0 300.5 L545.1 295.6 L547.3 298.2 Z"/><circle cx="573.8" cy="270.8" r="9.2"/><text x="574.0" y="274.7" textLength="14.6" lengthAdjust="spacingAndGlyphs">18</text>
<path class="l" d="M58.8 514.5 L87.5 585.0"/><path class="k" d="M87.5 585.0 L83.9 580.5 L87.0 579.3 Z"/><circle cx="52.0" cy="506.3" r="9.2"/><text x="52.2" y="510.2" textLength="14.6" lengthAdjust="spacingAndGlyphs">84</text>
<path class="l" d="M90.0 481.3 L98.6 532.0"/><path class="k" d="M98.6 532.0 L96.0 526.9 L99.4 526.3 Z"/><circle cx="88.0" cy="471.3" r="9.2"/><text x="88.2" y="475.2" textLength="14.6" lengthAdjust="spacingAndGlyphs">46</text>
<path class="l" d="M120.5 483.8 L132.5 556.5"/><path class="k" d="M132.5 556.5 L129.9 551.4 L133.3 550.8 Z"/><circle cx="119.0" cy="474.5" r="9.2"/><text x="119.2" y="478.4" textLength="14.6" lengthAdjust="spacingAndGlyphs">56</text>
<path class="l" d="M287.5 359.0 L302.0 433.0"/><path class="k" d="M302.0 433.0 L299.3 427.9 L302.6 427.3 Z"/><circle cx="285.3" cy="350.0" r="9.2"/><text x="285.5" y="353.9" textLength="14.6" lengthAdjust="spacingAndGlyphs">57</text>
<path class="l" d="M228.5 391.0 L262.6 461.0"/><path class="k" d="M262.6 461.0 L258.7 456.8 L261.7 455.3 Z"/><circle cx="224.0" cy="382.5" r="9.2"/><text x="224.2" y="386.4" textLength="14.6" lengthAdjust="spacingAndGlyphs">83</text>
<path class="l" d="M195.5 477.0 L245.0 497.0"/><path class="k" d="M245.0 497.0 L239.3 496.5 L240.5 493.4 Z"/><circle cx="187.0" cy="474.3" r="9.2"/><text x="187.2" y="478.2" textLength="14.6" lengthAdjust="spacingAndGlyphs">60</text>
<path class="l" d="M290.7 500.5 L283.7 523.3"/><path class="k" d="M283.7 523.3 L283.7 517.5 L286.9 518.5 Z"/><circle cx="294.0" cy="491.3" r="9.2"/><text x="294.2" y="495.2" textLength="14.6" lengthAdjust="spacingAndGlyphs">46</text>
<path class="l" d="M312.2 503.2 L304.7 540.8"/><path class="k" d="M304.7 540.8 L304.1 535.1 L307.4 535.7 Z"/><circle cx="315.0" cy="494.4" r="9.2"/><text x="315.2" y="498.3" textLength="14.6" lengthAdjust="spacingAndGlyphs">56</text>
<path class="l" d="M216.5 569.5 L236.3 585.0"/><path class="k" d="M236.3 585.0 L230.9 582.9 L233.0 580.3 Z"/><circle cx="210.0" cy="562.5" r="9.2"/><text x="210.2" y="566.4" textLength="14.6" lengthAdjust="spacingAndGlyphs">86</text>
<path class="l" d="M207.0 591.5 L246.3 603.8"/><path class="k" d="M246.3 603.8 L240.5 603.8 L241.6 600.5 Z"/><circle cx="198.0" cy="589.3" r="9.2"/><text x="198.2" y="593.2" textLength="14.6" lengthAdjust="spacingAndGlyphs">88</text>
<path class="l" d="M171.5 610.0 L188.3 635.0"/><path class="k" d="M188.3 635.0 L183.8 631.4 L186.6 629.5 Z"/><circle cx="167.5" cy="601.3" r="9.2"/><text x="167.7" y="605.2" textLength="14.6" lengthAdjust="spacingAndGlyphs">87</text>
<path class="l" d="M146.5 726.5 L200.0 672.5"/><path class="k" d="M200.0 672.5 L197.3 677.6 L194.9 675.2 Z"/><circle cx="140.0" cy="733.0" r="9.2"/><text x="140.2" y="736.9" textLength="14.6" lengthAdjust="spacingAndGlyphs">71</text>
<path class="l" d="M252.0 648.5 L279.0 621.4"/><path class="k" d="M279.0 621.4 L276.3 626.5 L273.9 624.1 Z"/><circle cx="245.0" cy="655.6" r="9.2"/><text x="245.2" y="659.5" textLength="14.6" lengthAdjust="spacingAndGlyphs">85</text>
<path class="l" d="M277.5 720.5 L305.0 747.5"/><path class="k" d="M305.0 747.5 L299.9 744.9 L302.3 742.4 Z"/><circle cx="270.5" cy="714.0" r="9.2"/><text x="270.7" y="717.9" textLength="14.6" lengthAdjust="spacingAndGlyphs">72</text>
<path class="l" d="M192.0 764.5 L232.5 733.8"/><path class="k" d="M232.5 733.8 L229.1 738.5 L227.1 735.8 Z"/><circle cx="184.3" cy="770.8" r="9.2"/><text x="184.5" y="774.7" textLength="14.6" lengthAdjust="spacingAndGlyphs">89</text>
<path class="l" d="M418.8 613.8 L396.3 616.3"/><path class="k" d="M396.3 616.3 L401.6 614.0 L402.0 617.4 Z"/><circle cx="428.0" cy="612.5" r="9.2"/><text x="428.2" y="616.4" textLength="14.6" lengthAdjust="spacingAndGlyphs">92</text>
<path class="l" d="M418.5 668.5 L411.3 652.5"/><path class="k" d="M411.3 652.5 L415.1 656.8 L412.0 658.2 Z"/><circle cx="420.5" cy="677.5" r="9.2"/><text x="420.7" y="681.4" textLength="14.6" lengthAdjust="spacingAndGlyphs">56</text>
<path class="l" d="M382.2 726.5 L362.5 691.3"/><path class="k" d="M362.5 691.3 L366.7 695.3 L363.7 696.9 Z"/><circle cx="386.3" cy="735.0" r="9.2"/><text x="386.5" y="738.9" textLength="14.6" lengthAdjust="spacingAndGlyphs">90</text>
<path class="l" d="M529.5 611.5 L496.3 596.3"/><path class="k" d="M496.3 596.3 L502.0 597.0 L500.6 600.1 Z"/><circle cx="537.5" cy="615.5" r="9.2"/><text x="537.7" y="619.4" textLength="14.6" lengthAdjust="spacingAndGlyphs">73</text>
<path class="l" d="M502.5 672.7 L492.5 628.8"/><path class="k" d="M492.5 628.8 L495.4 633.8 L492.1 634.5 Z"/><circle cx="504.5" cy="681.8" r="9.2"/><text x="504.7" y="685.7" textLength="14.6" lengthAdjust="spacingAndGlyphs">74</text>
<path class="l" d="M333.5 548.5 L321.3 560.0"/><path class="k" d="M321.3 560.0 L324.1 555.0 L326.5 557.5 Z"/><circle cx="340.0" cy="541.3" r="9.2"/><text x="340.2" y="545.2" textLength="14.6" lengthAdjust="spacingAndGlyphs">57</text>
<path class="l" d="M364.5 603.5 L370.5 611.5"/><path class="k" d="M370.5 611.5 L365.8 608.1 L368.6 606.1 Z"/><circle cx="358.6" cy="596.0" r="9.2"/><text x="358.8" y="599.9" textLength="14.6" lengthAdjust="spacingAndGlyphs">56</text>
</g>
</g>
</svg>
</body></html>
